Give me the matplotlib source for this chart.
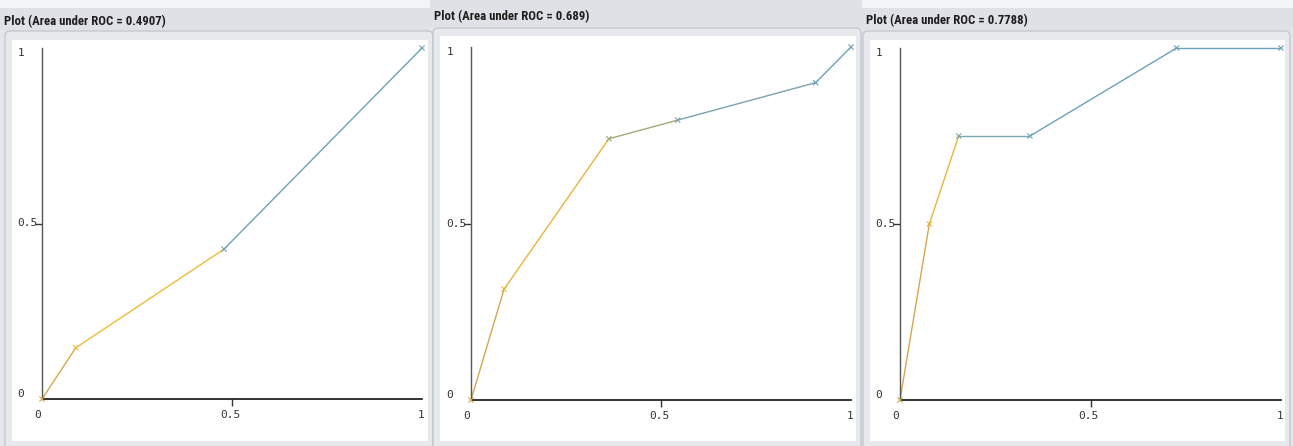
import matplotlib
matplotlib.use("Agg")
import matplotlib.pyplot as plt
from matplotlib import font_manager
from matplotlib.patches import Rectangle, FancyBboxPatch

# ---------------- data ----------------
titles = ["Plot (Area under ROC = 0.4907)",
          "Plot (Area under ROC = 0.689)",
          "Plot (Area under ROC = 0.7788)"]

fpr_1 = [0.0, 0.089, 0.479, 1.0]
tpr_1 = [0.0, 0.146, 0.427, 1.0]

fpr_2 = [0.0, 0.087, 0.363, 0.544, 0.907, 1.0]
tpr_2 = [0.0, 0.314, 0.740, 0.793, 0.899, 1.0]

fpr_3 = [0.0, 0.077, 0.154, 0.341, 0.726, 1.0]
tpr_3 = [0.0, 0.500, 0.750, 0.750, 1.000, 1.0]

tick_vals = [0, 0.5, 1]
tick_labels = ["0", "0.5", "1"]

# point colours (threshold colouring, orange -> blue)
cols_1 = ["#d6a650", "#edbb3c", "#6aa3b8", "#6aa3b8"]
cols_2 = ["#d6a650", "#e8b43a", "#a3a878", "#7aa2b0", "#6aa3b8", "#6aa3b8"]
cols_3 = ["#d6a650", "#e5b43c", "#7aa8b4", "#6aa3b8", "#6aa3b8", "#6aa3b8"]

# ---------------- layout (pixels) ----------------
W, H = 1293, 446
# axes box: x0, x1, y_top, y_bottom
axes_px = [(42, 422, 48, 399), (471, 851, 47, 400), (900, 1281, 48, 400)]
# white plot area: x0, x1, y_top, y_bottom
white_px = [(12, 428, 40, 441), (440, 856, 36, 441), (870, 1285, 40, 441)]
# title bar: x0, x1, y_top, y_bottom, text y
bar_px = [(0, 430, 8, 30, 21.5), (430, 862, 0, 27, 16.5), (862, 1293, 8, 30, 20.5)]


def pick_font(names):
    have = {f.name for f in font_manager.fontManager.ttflist}
    for n in names:
        if n in have:
            return n
    return "DejaVu Sans"


title_font = pick_font(["Liberation Sans Narrow", "Roboto Condensed", "DejaVu Sans"])
mono_font = pick_font(["DejaVu Sans Mono", "Liberation Mono"])

fig = plt.figure(figsize=(W / 100, H / 100), dpi=100)
fig.patch.set_facecolor("#e4e6eb")

bg = fig.add_axes([0, 0, 1, 1], zorder=-5)
bg.set_xlim(0, W)
bg.set_ylim(H, 0)
bg.axis("off")
bg.add_patch(Rectangle((0, 0), W, 8, color="#f4f5f7", lw=0))

for (bx0, bx1, by0, by1, ty), (wx0, wx1, wy0, wy1), title in zip(bar_px, white_px, titles):
    bg.add_patch(Rectangle((bx0, by0), bx1 - bx0, by1 - by0, color="#dfe1e6", lw=0))
    bg.add_patch(FancyBboxPatch((wx0 - 7, by1 + 1), (wx1 - wx0) + 12, H - by1 + 4,
                                boxstyle="round,pad=0,rounding_size=5",
                                fc="#e7e9ed", ec="#c3c7cf", lw=1.0))
    bg.add_patch(Rectangle((wx0, wy0), wx1 - wx0, wy1 - wy0, color="white", lw=0))
    bg.text(bx0 + 4, ty, title, fontsize=9.2, fontweight="bold", family=title_font,
            color="#1e1e1e", va="center", ha="left")


def draw_panel(box, fpr, tpr, cols):
    x0, x1, yt, yb = box
    ax = fig.add_axes([x0 / W, 1 - yb / H, (x1 - x0) / W, (yb - yt) / H])
    ax.set_xlim(0, 1)
    ax.set_ylim(0, 1)
    ax.patch.set_alpha(0)
    for s in ["top", "right"]:
        ax.spines[s].set_visible(False)
    ax.spines["left"].set_color("#555555")
    ax.spines["bottom"].set_color("#111111")
    ax.spines["left"].set_linewidth(1.0)
    ax.spines["bottom"].set_linewidth(1.2)

    ax.set_xticks(tick_vals)
    ax.set_yticks(tick_vals)
    ax.set_xticklabels([])
    ax.set_yticklabels([])
    ax.tick_params(length=5, width=1, color="#333333")
    for i in (0, 2):
        ax.xaxis.get_major_ticks()[i].tick1line.set_visible(False)
        ax.yaxis.get_major_ticks()[i].tick1line.set_visible(False)

    # tick labels in the Weka style
    lab_kw = dict(family=mono_font, fontsize=8, color="#333333")
    ylab = ax.get_yaxis_transform()
    xlab = ax.get_xaxis_transform()
    for v, t in zip(tick_vals, tick_labels):
        va = {0: "bottom", 0.5: "center", 1: "top"}[v]
        ax.text(-0.064, v, t, transform=ylab, ha="left", va=va, **lab_kw)
        dx = {0: -0.012, 0.5: -0.005, 1: -0.003}[v]
        ax.text(v + dx, -0.045, t, transform=xlab, ha="center", va="center", **lab_kw)

    for i in range(len(fpr) - 1):
        ax.plot(fpr[i:i + 2], tpr[i:i + 2], color=cols[i], lw=1.0, clip_on=False,
                solid_capstyle="round")
    ax.scatter(fpr, tpr, marker="x", c=cols, s=14, linewidths=0.8, clip_on=False, zorder=3)
    return ax


draw_panel(axes_px[0], fpr_1, tpr_1, cols_1)
draw_panel(axes_px[1], fpr_2, tpr_2, cols_2)
draw_panel(axes_px[2], fpr_3, tpr_3, cols_3)

fig.savefig("out.png", dpi=100, facecolor=fig.get_facecolor())
